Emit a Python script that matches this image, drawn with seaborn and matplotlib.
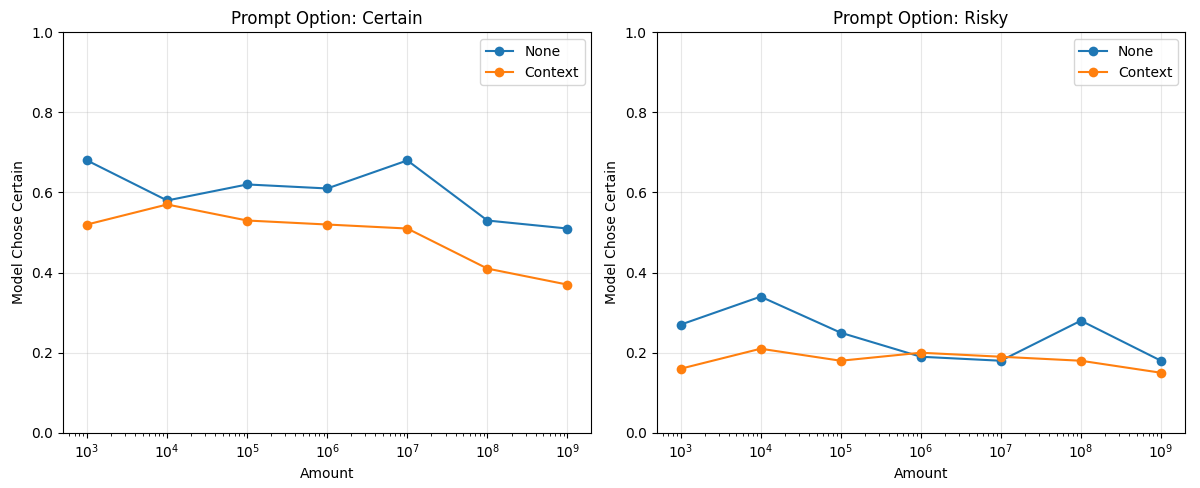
import pandas as pd
import seaborn as sns
import matplotlib.pyplot as plt
from matplotlib.ticker import NullFormatter

amounts = [1e3, 1e4, 1e5, 1e6, 1e7, 1e8, 1e9]
certain_none = [0.68, 0.58, 0.62, 0.61, 0.68, 0.53, 0.51]
certain_context = [0.52, 0.57, 0.53, 0.52, 0.51, 0.41, 0.37]
risky_none = [0.27, 0.34, 0.25, 0.19, 0.18, 0.28, 0.18]
risky_context = [0.16, 0.21, 0.18, 0.20, 0.19, 0.18, 0.15]

panels = {
    'Certain': {'None': certain_none, 'Context': certain_context},
    'Risky': {'None': risky_none, 'Context': risky_context},
}

fig, axes = plt.subplots(1, 2, figsize=(12, 4.88), dpi=100)
for ax, (option, series) in zip(axes, panels.items()):
    for name, vals in series.items():
        df = pd.DataFrame({'Amount': amounts, 'value': vals})
        sns.lineplot(data=df, x='Amount', y='value', marker='o', markersize=7,
                     markeredgewidth=0, label=name, ax=ax)
    ax.set_xscale('log')
    ax.xaxis.set_minor_formatter(NullFormatter())
    ax.set_ylim(0, 1)
    ax.set_title(f'Prompt Option: {option}')
    ax.set_xlabel('Amount')
    ax.set_ylabel('Model Chose Certain')
    ax.grid(True, alpha=0.3)
    ax.legend(loc='upper right')

plt.subplots_adjust(left=0.0525, right=0.9875, top=0.934, bottom=0.113, wspace=0.123)
plt.savefig('out.png')
